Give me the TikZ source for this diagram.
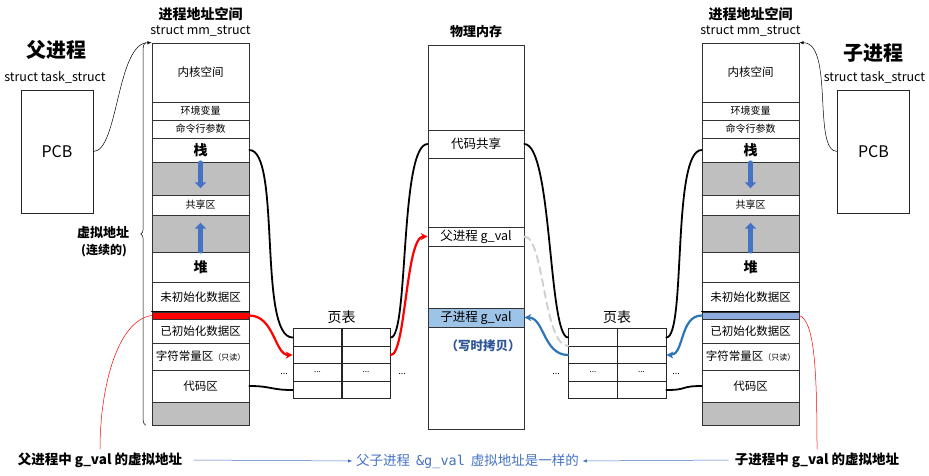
\documentclass[tikz,border=0pt]{standalone}
\usepackage{fontspec}
\setmainfont{Noto Sans CJK SC}
\setmonofont{DejaVu Sans Mono}
\usetikzlibrary{arrows.meta,decorations.pathreplacing}
\definecolor{zonegray}{HTML}{BFBFBF}
\definecolor{barblue}{HTML}{8FAADC}
\definecolor{cowblue}{HTML}{9DC3E6}
\definecolor{arrblue}{HTML}{2E75B6}
\definecolor{txtblue}{HTML}{4472C4}
\definecolor{darkblue}{HTML}{2F5597}
\newcommand{\fsz}[1]{\fontsize{#1}{#1}\selectfont}
\begin{document}
\begin{tikzpicture}[x=1pt,y=-1pt,>=latex,line cap=round,
  segbox/.style={draw=black!80,line width=0.6pt,minimum width=97pt,inner sep=0pt,font=\fsz{11.5}},
  ptcell/.style={draw=black!85,line width=0.6pt,minimum width=49pt,minimum height=17.5pt,inner sep=0pt,font=\fsz{8}},
  pcbbox/.style={draw=black!85,line width=0.6pt,minimum width=72pt,minimum height=123pt,font=\fsz{16}},
  link/.style={line width=1.8pt},
  redlink/.style={red,line width=2.2pt,-{Stealth[length=7pt,width=7pt]}},
  bluelink/.style={arrblue,line width=2.2pt,-{Stealth[length=7pt,width=7pt]}},
  growarrow/.style={txtblue,line width=4.5pt,-{Triangle[length=6pt,width=11pt]}},
  thinlink/.style={line width=0.5pt},
  note/.style={font=\fsz{13.5}\bfseries}]
  \useasboundingbox (0,0) rectangle (929,475);

  % address spaces of parent (L) and child (R)
  \foreach \s/\x/\barcol in {L/200.5/red,R/750.5/barblue}{
    \foreach \n/\t/\b/\txt/\f in {1/43/102/{内核空间}/white,
        2/102/120/{\fsz{10}环境变量}/white,
        3/120/138/{\fsz{10}命令行参数}/white,
        4/138/162/{\fsz{14}\bfseries 栈}/white,
        5/162/195/{}/zonegray,
        6/195/215/{\fsz{10}共享区}/white,
        7/215/252/{}/zonegray,
        8/252/282/{\fsz{14}\bfseries 堆}/white,
        9/282/312/{未初始化数据区}/white,
        10/312/319/{}/\barcol,
        11/319/343/{已初始化数据区}/white,
        12/343/370/{字符常量区{\fsz{8}（只读）}}/white,
        13/370/402/{代码区}/white,
        14/402/425/{}/zonegray}
      \node[segbox,fill=\f,minimum height={(\b-\t)*1pt}] (\s\n) at (\x,{(\t+\b)/2}) {\txt};
    \draw[line width=1.2pt] (\s10.north west) -- (\s10.north east);
    \draw[growarrow] ([yshift=-1pt]\s5.north) -- ([yshift=7pt]\s5.south);
    \draw[growarrow] ([yshift=1pt]\s7.south) -- ([yshift=-8pt]\s7.north);
    \node[font=\fsz{14}\bfseries] (\s title) at (\x,14) {进程地址空间};
    \node[font=\fsz{12.5}] (\s mm) at (\x,31) {struct mm\_struct};
  }

  % physical memory
  \foreach \n/\t/\b/\txt/\f in {1/45/130/{}/white,
      2/130/158/{代码共享}/white,
      3/158/227/{}/white,
      4/227/246/{父进程 g\_val}/white,
      5/246/308/{}/white,
      6/308/327/{子进程 g\_val}/cowblue,
      7/327/429/{}/white}
    \node[segbox,minimum width=96pt,font=\fsz{12.5},fill=\f,minimum height={(\b-\t)*1pt}] (P\n) at (476,{(\t+\b)/2}) {\txt};
  \node[font=\fsz{13}\bfseries] (Ptitle) at (476,32) {物理内存};
  \node[font=\fsz{12.5}\bfseries,text=darkblue] (cow) at (483,346) {（写时拷贝）};

  % page tables
  \foreach \s/\x in {TL/317.5,TR/593}{
    \foreach \r/\y/\c in {1/337.5/{},2/355/{},3/372.5/{...},4/390/{}}{
      \node[ptcell] (\s a\r) at (\x,\y) {\c};
      \node[ptcell] (\s b\r) at (\x+48.5,\y) {\c};
    }
    \node[font=\fsz{14}] (\s head) at (\x+24,317) {页表};
  }
  \node[font=\fsz{9}] (TLdl) at (284,374) {...};
  \node[font=\fsz{9}] (TLdr) at (402,374) {...};
  \node[font=\fsz{9}] (TRdl) at (556,374) {...};
  \node[font=\fsz{9}] (TRdr) at (676,374) {...};

  % task structs
  \node[pcbbox] (PCBL) at (57,151.5) {PCB};
  \node[pcbbox] (PCBR) at (873.5,151.5) {PCB};
  \node[font=\fsz{20}\bfseries] (parent) at (56,50) {父进程};
  \node[font=\fsz{12.5}] (parentts) at (55,77) {struct task\_struct};
  \node[font=\fsz{20}\bfseries] (child) at (873,53) {子进程};
  \node[font=\fsz{12.5}] (childts) at (874.5,77) {struct task\_struct};
  \draw[thinlink,->] (PCBL.east) .. controls +(25,0) and +(-35,0) .. (L1.north west);
  \draw[thinlink,->] (PCBR.west) .. controls +(-25,0) and +(35,0) .. (R1.north east);

  % virtual address brace
  \draw[thinlink,decorate,decoration={brace,amplitude=5pt}]
    ([xshift=-6pt]L14.south west) -- ([xshift=-6pt]L1.north west);
  \node[font=\fsz{13}\bfseries] (virt) at (103,233) {虚拟地址};
  \node[font=\fsz{12}\bfseries] (virtc) at (104,251) {(连续的)};

  % mappings
  \draw[link] (L4.east) .. controls +(32,0) and +(-35,0) .. (TLa1.west);
  \draw[link] (TLb1.east) .. controls +(18,0) and +(-28,0) .. (P2.west);
  \draw[link] (P2.east) .. controls +(28,0) and +(-20,0) .. (TRa1.west);
  \draw[link] (TRb1.east) .. controls +(20,0) and +(-30,0) .. (R4.west);
  \draw[link] (L13.east) .. controls +(22,0) and +(-22,0) .. (TLa4.west);
  \draw[link] (TRb4.east) .. controls +(22,0) and +(-22,0) .. (R13.west);
  \draw[redlink] (L10.east) .. controls +(25,0) and +(-18,0) .. (TLa2.west);
  \draw[redlink] (TLb2.east) .. controls +(15,0) and +(-22,0) .. (P4.west);
  \draw[line width=2pt,black!18,dash pattern=on 7pt off 5pt] (P4.east) .. controls +(20,0) and +(-25,0) .. (TRa2.north west);
  \draw[bluelink] (TRa2.west) .. controls +(-25,0) and +(20,0) .. (P6.east);
  \draw[bluelink] (R10.west) .. controls +(-22,0) and +(18,0) .. (TRb2.east);

  % g_val notes
  \node[note] (gL) at (100,460) {父进程中 g\_val 的虚拟地址};
  \node[note] (gR) at (817,460) {子进程中 g\_val 的虚拟地址};
  \node[font=\fsz{13.5},text=txtblue] (same) at (467.5,461) {父子进程~~\texttt{\&g\_val}~~虚拟地址是一样的};
  \draw[thinlink,red] (L10.west) .. controls +(-35,5) and +(0,-60) .. (gL.north);
  \draw[thinlink,red] (R10.east) .. controls +(15,5) and +(0,-80) .. (gR.north);
  \draw[thinlink,txtblue,->] ([xshift=8pt]gL.east) -- (same.west);
  \draw[thinlink,txtblue,->] ([xshift=-3pt]gR.west) -- (same.east);
\end{tikzpicture}
\end{document}
